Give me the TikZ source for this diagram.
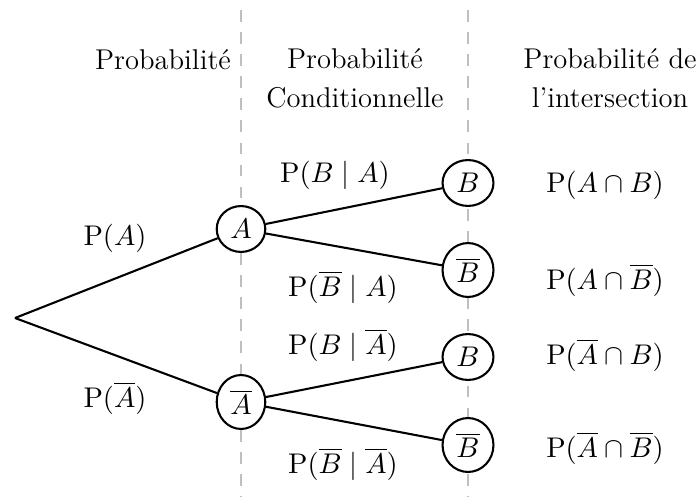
\documentclass[tikz,border=0pt]{standalone}
\usepackage{amsmath}
\usetikzlibrary{shapes.geometric}

\begin{document}
\begin{tikzpicture}[x=0.01352cm, y=-0.01352cm, font=\fontsize{11}{13}\selectfont]
                \useasboundingbox (0,0) rectangle (699,497);
                \draw[gray!50, line width=1pt, dash pattern=on 4.5pt off 4pt] (241,10) -- (241,497);
                \draw[gray!50, line width=1pt, dash pattern=on 4.5pt off 4pt] (468,10) -- (468,497);
                \begin{scope}[every node/.style={align=center}]
                        \node (T1) at (163,60) {Probabilité};
                        \node (T2) at (355,78) {Probabilité\\[2pt]Conditionnelle};
                        \node (T3) at (610,78) {Probabilité de\\[2pt]l'intersection};
                \end{scope}
                \begin{scope}[every node/.style={thick, draw, ellipse, fill=white, inner sep=2.5pt}]
                        \node (A) at (241,229) {\(A\)};
                        \node (Ab) at (241,402) {\(\overline{A}\)};
                        \node (AB) at (468,183) {\(B\)};
                        \node (ABb) at (468,270) {\(\overline{B}\)};
                        \node (AbB) at (468,357) {\(B\)};
                        \node (AbBb) at (468,445) {\(\overline{B}\)};
                \end{scope}
                \coordinate (R) at (15,318);
                \begin{scope}[every path/.style={thick}]
                        \path (R) edge (A);
                        \path (R) edge (Ab);
                        \path (A) edge (AB);
                        \path (A) edge (ABb);
                        \path (Ab) edge (AbB);
                        \path (Ab) edge (AbBb);
                \end{scope}
                % labels on the branches
                \node (pA) at (115,238) {\(\mathrm{P}(A)\)};
                \node (pAb) at (115,398) {\(\mathrm{P}(\overline{A})\)};
                \node (pBA) at (335,175) {\(\mathrm{P}(B\mid A)\)};
                \node (pBbA) at (343,287) {\(\mathrm{P}(\overline{B}\mid A)\)};
                \node (pBAb) at (343,345) {\(\mathrm{P}(B\mid \overline{A})\)};
                \node (pBbAb) at (343,464) {\(\mathrm{P}(\overline{B}\mid \overline{A})\)};
                % intersections
                \node (iAB) at (605,185) {\(\mathrm{P}(A\cap B)\)};
                \node (iABb) at (605,280) {\(\mathrm{P}(A\cap \overline{B})\)};
                \node (iAbB) at (605,355) {\(\mathrm{P}(\overline{A}\cap B)\)};
                \node (iAbBb) at (605,448) {\(\mathrm{P}(\overline{A}\cap \overline{B})\)};
        \end{tikzpicture}
\end{document}
